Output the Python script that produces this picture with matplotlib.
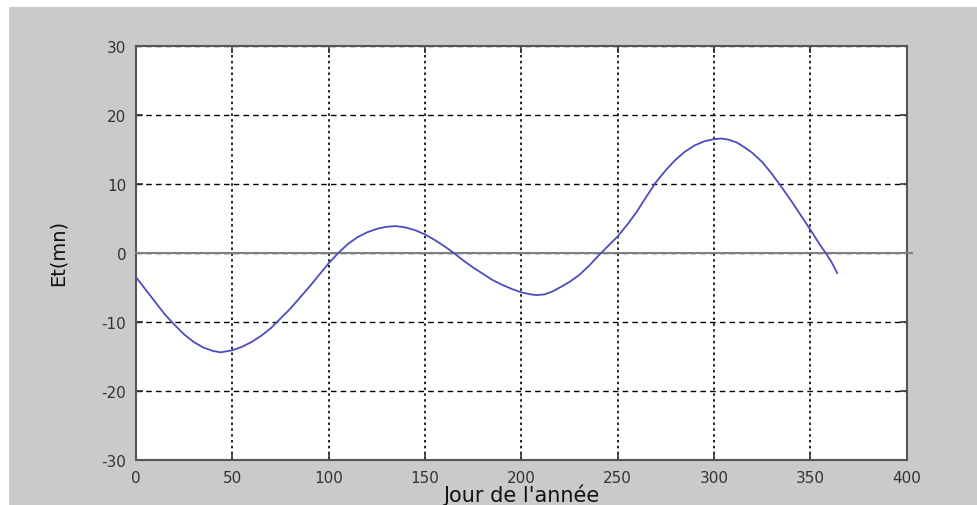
import matplotlib.pyplot as plt
from matplotlib.patches import Rectangle

# Equation of time (minutes) over the year
days = [0, 5, 10, 15, 20, 25, 30, 35, 40, 44, 50, 55, 60, 65, 70, 75, 80, 85,
        90, 95, 100, 105, 110, 115, 120, 125, 130, 135, 140, 145, 150, 155,
        160, 165, 170, 175, 180, 185, 190, 195, 200, 205, 208, 212, 216, 220,
        225, 230, 235, 240, 245, 250, 255, 260, 265, 270, 275, 280, 285, 290,
        295, 300, 304, 308, 312, 316, 320, 325, 330, 335, 340, 345, 350, 355,
        358, 361, 364]
et_minutes = [-3.5, -5.3, -7.1, -8.9, -10.4, -11.8, -12.9, -13.7, -14.2, -14.4,
              -14.1, -13.6, -12.9, -12.0, -10.9, -9.5, -8.1, -6.5, -4.9, -3.2,
              -1.5, 0.0, 1.3, 2.3, 3.0, 3.5, 3.8, 3.9, 3.7, 3.3, 2.7, 1.9, 1.0,
              0.0, -1.1, -2.1, -3.0, -3.9, -4.6, -5.2, -5.7, -6.0, -6.1, -6.0,
              -5.6, -5.0, -4.2, -3.2, -1.9, -0.4, 1.0, 2.4, 4.1, 6.0, 8.2, 10.3,
              12.0, 13.5, 14.7, 15.6, 16.2, 16.5, 16.6, 16.4, 16.0, 15.3, 14.5,
              13.2, 11.5, 9.6, 7.6, 5.5, 3.4, 1.2, 0.0, -1.3, -2.9]

# zero reference line
zero_x = [0, 403]
zero_y = [0, 0]

x_ticks = list(range(0, 401, 50))
y_ticks = list(range(-30, 31, 10))

plt.rcParams['font.family'] = ['DejaVu Sans']
plt.rcParams['axes.unicode_minus'] = False

fig = plt.figure(figsize=(9.78, 5.06), dpi=100, facecolor='white')
fig.add_artist(Rectangle((9 / 978, 0), 1, 498 / 506, transform=fig.transFigure,
                         facecolor='#cacaca', edgecolor='none', zorder=0))

ax = fig.add_axes([0.139, 0.089, 0.788, 0.818])
ax.set_facecolor('white')

ax.plot(zero_x, zero_y, color='#808080', lw=1.5, clip_on=False, zorder=3)
ax.plot(days, et_minutes, color='#4c4cbf', lw=1.3, zorder=4)

ax.set_xlim(0, 400)
ax.set_ylim(-30, 30)
ax.set_xticks(x_ticks)
ax.set_yticks(y_ticks)

ax.xaxis.grid(True, color='black', linestyle=(0, (1.5, 2.0)), lw=1.2)
ax.yaxis.grid(True, color='black', linestyle=(0, (4, 3)), lw=1.0)

ax.tick_params(direction='in', length=5, width=1.2, top=True, right=True,
               colors='#333333', labelsize=11, pad=7)
for spine in ax.spines.values():
    spine.set_color('#555555')
    spine.set_linewidth(1.5)

ax.set_xlabel("Jour de l'année", fontsize=15, color='#111111')
ax.xaxis.set_label_coords(0.5, -0.058)
ax.set_ylabel("Et(mn)", fontsize=14, color='#111111')
ax.yaxis.set_label_coords(-0.088, 0.502)

fig.savefig('out.png', dpi=100, facecolor=fig.get_facecolor())
